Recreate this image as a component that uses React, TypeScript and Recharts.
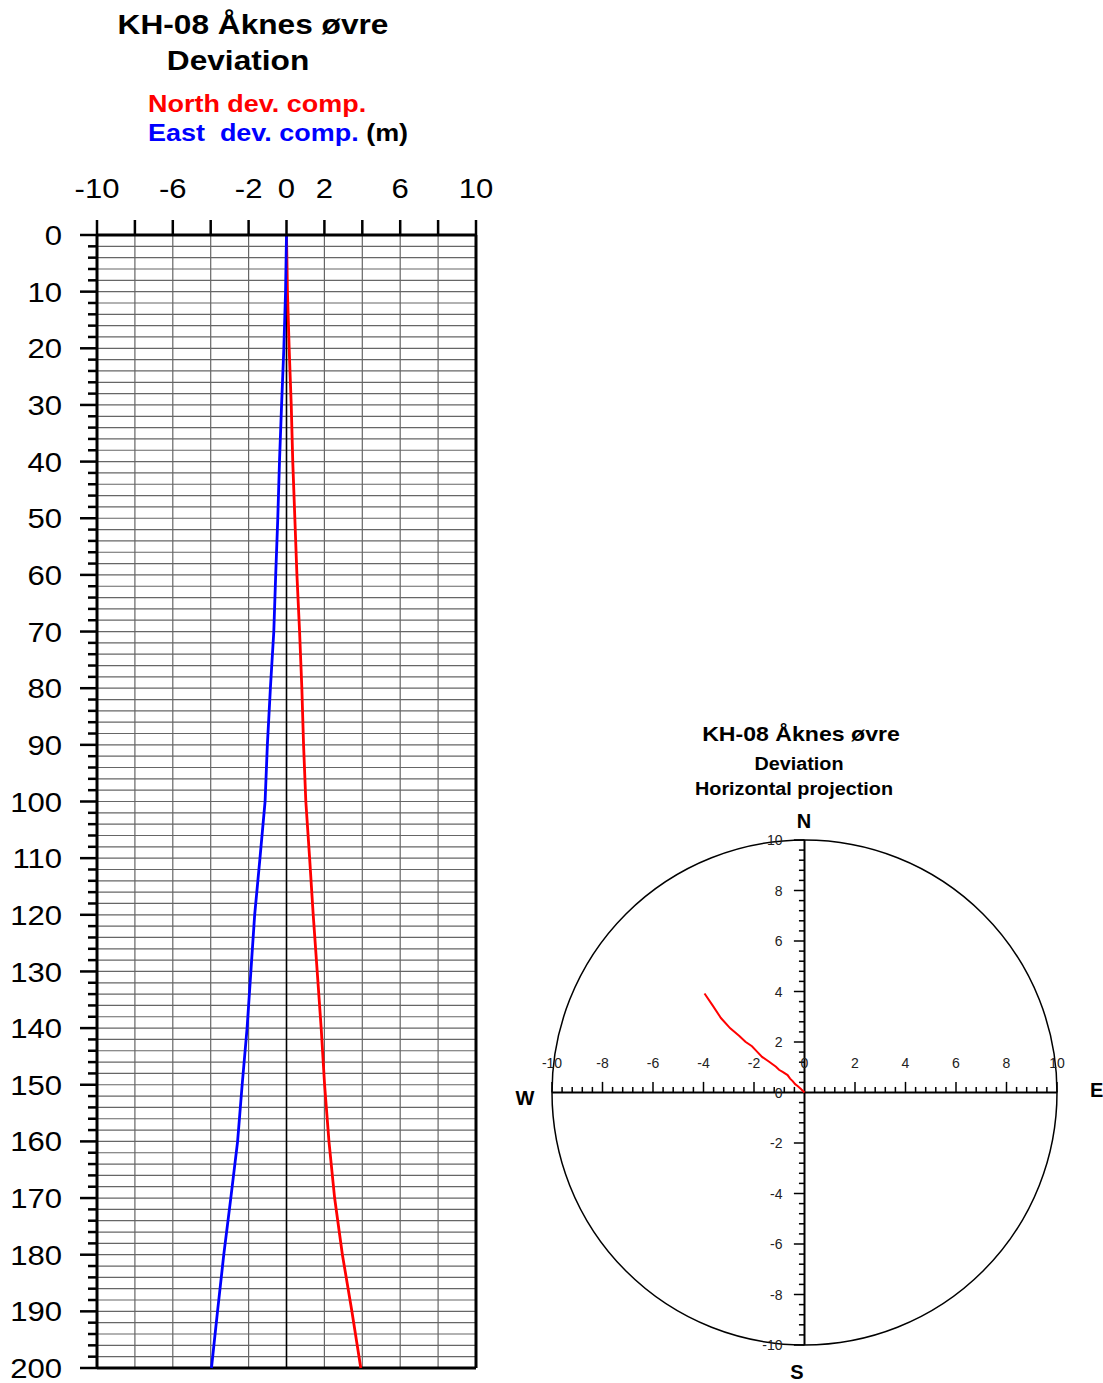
import React from 'react';
import { LineChart, Line, XAxis, YAxis, CartesianGrid, ReferenceLine, ReferenceDot } from 'recharts';

const FONT = '"Liberation Sans", Arial, sans-serif';

// depth along hole (m) and deviation components (m)
const depths = [0, 10, 20, 30, 40, 50, 60, 70, 80, 90, 100, 110, 120, 130, 140, 150, 160, 170, 180, 190, 200];
const northDev = [0, 0.05, 0.14, 0.25, 0.33, 0.44, 0.55, 0.69, 0.81, 0.9, 1.02, 1.22, 1.41, 1.62, 1.83, 2.01, 2.24, 2.54, 2.95, 3.45, 3.92];
const eastDev = [0, -0.05, -0.14, -0.26, -0.37, -0.46, -0.57, -0.67, -0.85, -1.01, -1.13, -1.4, -1.68, -1.88, -2.08, -2.34, -2.58, -2.94, -3.31, -3.64, -3.96];

const devTicks = [-10, -8, -6, -4, -2, 0, 2, 4, 6, 8, 10];
const devLabels = [-10, -6, -2, 0, 2, 6, 10];
const depthTicks = Array.from({ length: 101 }, (_, i) => i * 2);

const projLabels = [-10, -8, -6, -4, -2, 0, 2, 4, 6, 8, 10];
const projTicks = Array.from({ length: 51 }, (_, i) => Math.round((-10 + i * 0.4) * 10) / 10).filter((v) => v !== 0);

const depthRows = depths.map((d, i) => ({ depth: d, north: northDev[i], east: eastDev[i] }));
const projRows = depths.map((d, i) => ({ east: eastDev[i], north: northDev[i] }));

const PROJ_SIZE = 505;

const TopTick = (props: any) => {
  const { x, y, payload } = props;
  const v = payload.value;
  return (
    <g>
      <line x1={x} x2={x} y1={y} y2={y - 15} stroke="#000" strokeWidth={2.5} />
      {devLabels.includes(v) && (
        <text transform={`translate(${x},${y - 37}) scale(1.11,1)`} textAnchor="middle" fontSize={28} fontFamily={FONT} fill="#000">
          {v}
        </text>
      )}
    </g>
  );
};

const LeftTick = (props: any) => {
  const { x, y, payload } = props;
  const v = payload.value;
  const major = v % 10 === 0;
  return (
    <g>
      <line x1={x} x2={x - (major ? 17 : 9)} y1={y} y2={y} stroke="#000" strokeWidth={2.5} />
      {major && (
        <text transform={`translate(${x - 35},${y}) scale(1.11,1)`} textAnchor="end" dy="0.36em" fontSize={28} fontFamily={FONT} fill="#000">
          {v}
        </text>
      )}
    </g>
  );
};

const txt = (extra: React.CSSProperties): React.CSSProperties => ({
  position: 'absolute',
  fontFamily: FONT,
  fontWeight: 'bold',
  lineHeight: 1,
  whiteSpace: 'pre',
  ...extra,
});

export default function App() {
  return (
    <div style={{ position: 'absolute', left: 0, top: 0, width: 1103, height: 1383, background: '#fff', overflow: 'hidden', fontFamily: FONT }}>
      <div style={{ position: 'absolute', left: 0, top: 0 }}>
        <LineChart
          width={500}
          height={1383}
          data={depthRows}
          layout="vertical"
          margin={{ top: 0, right: 24, bottom: 15, left: 0 }}
        >
          <CartesianGrid stroke="#666" strokeWidth={1.2} />
          <XAxis
            type="number"
            orientation="top"
            domain={[-10, 10]}
            ticks={devTicks}
            interval={0}
            height={235}
            tickSize={0}
            tickMargin={0}
            tick={<TopTick />}
            axisLine={{ stroke: '#000', strokeWidth: 3 }}
          />
          <YAxis
            type="number"
            dataKey="depth"
            domain={[0, 200]}
            ticks={depthTicks}
            interval={0}
            width={97}
            tickSize={0}
            tickMargin={0}
            tick={<LeftTick />}
            axisLine={{ stroke: '#000', strokeWidth: 3 }}
          />
          <ReferenceLine x={0} stroke="#000" strokeWidth={1.5} />
          <ReferenceLine x={10} stroke="#000" strokeWidth={3} />
          <ReferenceLine y={200} stroke="#000" strokeWidth={3} />
          <Line type="linear" dataKey="north" stroke="#ff0000" strokeWidth={2.8} dot={false} isAnimationActive={false} />
          <Line type="linear" dataKey="east" stroke="#0000ff" strokeWidth={2.8} dot={false} isAnimationActive={false} />
        </LineChart>
      </div>

      <div style={txt({ left: 53, width: 400, top: 11, fontSize: 28, textAlign: 'center', transform: 'scaleX(1.13)' })}>KH-08 Åknes øvre</div>
      <div style={txt({ left: 38, width: 400, top: 47, fontSize: 28, textAlign: 'center', transform: 'scaleX(1.13)' })}>Deviation</div>
      <div style={txt({ left: 148, top: 92, fontSize: 24.5, color: '#ff0000', transform: 'scaleX(1.1)', transformOrigin: 'left' })}>North dev. comp.</div>
      <div style={txt({ left: 148, top: 121, fontSize: 24.5, color: '#0000ff', transform: 'scaleX(1.1)', transformOrigin: 'left' })}>
        East  dev. comp.<span style={{ color: '#000' }}> (m)</span>
      </div>

      <div style={{ position: 'absolute', left: 500, top: 700 }}>
        <LineChart width={603} height={683} data={projRows} margin={{ top: 140, right: 46, bottom: 38, left: 52 }}>
          <XAxis type="number" dataKey="east" domain={[-10, 10]} hide />
          <YAxis type="number" domain={[-10, 10]} hide />
          <ReferenceDot x={0} y={0} r={PROJ_SIZE / 2} fill="none" stroke="#000" strokeWidth={1.5} />
          <ReferenceLine y={0} segment={[{ x: -10, y: 0 }, { x: 10, y: 0 }]} stroke="#000" strokeWidth={2.2} />
          <ReferenceLine x={0} segment={[{ x: 0, y: -10 }, { x: 0, y: 10 }]} stroke="#000" strokeWidth={2} />
          {projTicks.map((v) => {
            const len = Math.abs(v % 2) < 1e-6 ? 0.42 : 0.22;
            return (
              <ReferenceLine key={`h${v}`} segment={[{ x: v, y: 0 }, { x: v, y: len }]} stroke="#000" strokeWidth={1.5} />
            );
          })}
          {projTicks.map((v) => {
            const len = Math.abs(v % 2) < 1e-6 ? 0.42 : 0.22;
            return (
              <ReferenceLine key={`v${v}`} segment={[{ x: 0, y: v }, { x: -len, y: v }]} stroke="#000" strokeWidth={1.5} />
            );
          })}
          {projLabels.map((v) => (
            <ReferenceDot
              key={`lx${v}`}
              x={v}
              y={0}
              r={1}
              shape={(p: any) => (
                <text x={p.cx} y={p.cy - 25} textAnchor="middle" fontSize={14} fontFamily={FONT} fill="#222">
                  {v}
                </text>
              )}
            />
          ))}
          {projLabels.map((v) => (
            <ReferenceDot
              key={`ly${v}`}
              x={0}
              y={v}
              r={1}
              shape={(p: any) => (
                <text x={p.cx - 22} y={p.cy} dy="0.36em" textAnchor="end" fontSize={14} fontFamily={FONT} fill="#222">
                  {v}
                </text>
              )}
            />
          ))}
          <Line type="linear" dataKey="north" stroke="#ff0000" strokeWidth={2} dot={false} isAnimationActive={false} />
        </LineChart>
      </div>

      <div style={txt({ left: 601, width: 400, top: 723, fontSize: 21, textAlign: 'center', transform: 'scaleX(1.1)' })}>KH-08 Åknes øvre</div>
      <div style={txt({ left: 599, width: 400, top: 755, fontSize: 18, textAlign: 'center', transform: 'scaleX(1.1)' })}>Deviation</div>
      <div style={txt({ left: 594, width: 400, top: 780, fontSize: 18, textAlign: 'center', transform: 'scaleX(1.1)' })}>Horizontal projection</div>

      <div style={txt({ left: 764, width: 80, top: 811, fontSize: 20, textAlign: 'center' })}>N</div>
      <div style={txt({ left: 757, width: 80, top: 1362, fontSize: 20, textAlign: 'center' })}>S</div>
      <div style={txt({ left: 485, width: 80, top: 1088, fontSize: 20, textAlign: 'center' })}>W</div>
      <div style={txt({ left: 1090, top: 1080, fontSize: 20 })}>E</div>
    </div>
  );
}
